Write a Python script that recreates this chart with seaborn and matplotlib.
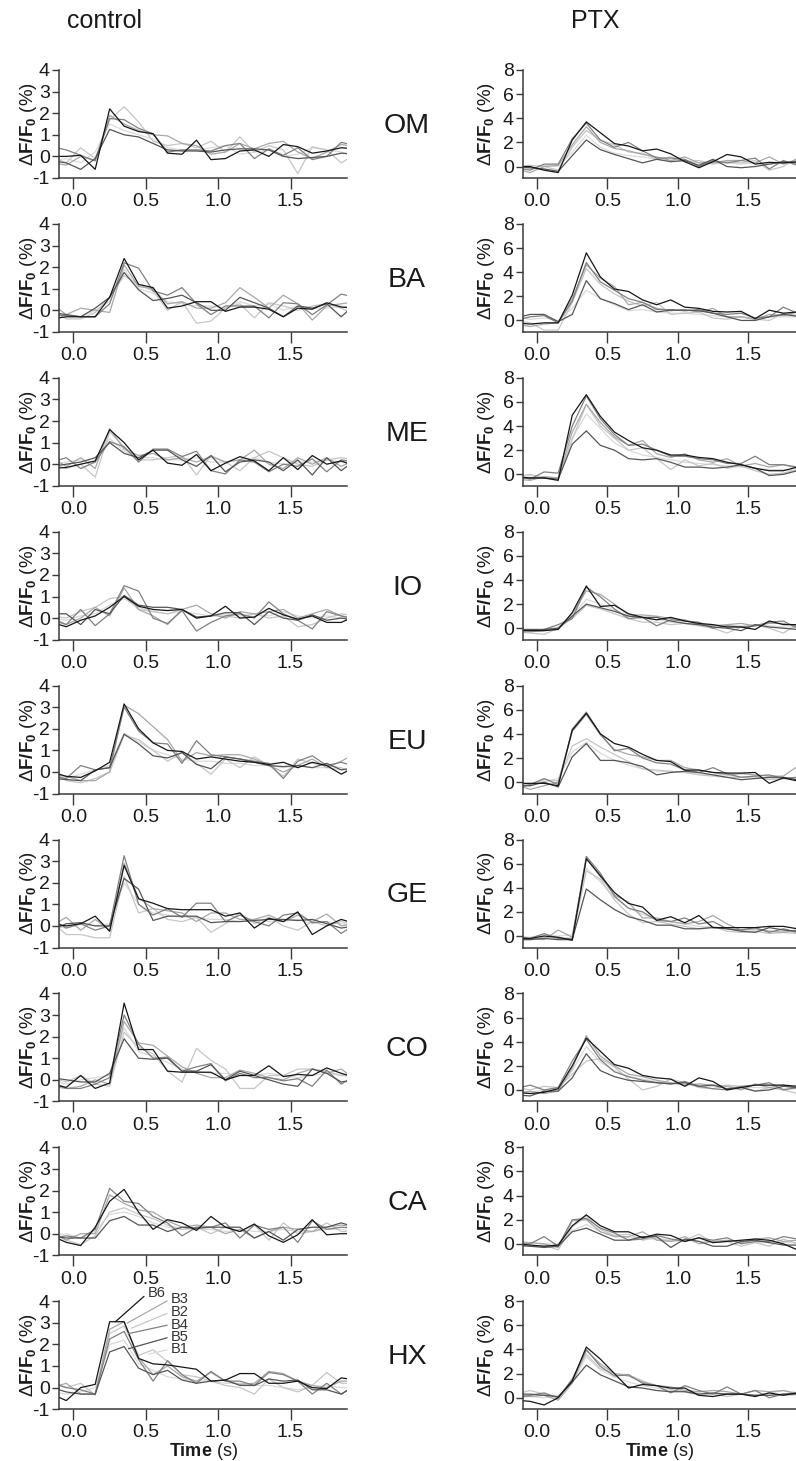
import numpy as np
import pandas as pd
import matplotlib
matplotlib.use("Agg")
import matplotlib.pyplot as plt
from matplotlib.ticker import FormatStrFormatter
import seaborn as sns

# ---------------- data ----------------
TIME = [-0.15, -0.05, 0.05, 0.15, 0.25, 0.35, 0.45, 0.55, 0.65, 0.75, 0.85,
        0.95, 1.05, 1.15, 1.25, 1.35, 1.45, 1.55, 1.65, 1.75, 1.85, 1.95]
TRACES = ["B1", "B2", "B3", "B4", "B5", "B6"]
ODORS = ["OM", "BA", "ME", "IO", "EU", "GE", "CO", "CA", "HX"]
X_TICKS = [0.0, 0.5, 1.0, 1.5]
Y_TICKS_CONTROL = [-1, 0, 1, 2, 3, 4]
Y_TICKS_PTX = [0, 2, 4, 6, 8]

OM_CONTROL = {
    "B6": [0.0, 0.0, 0.05, -0.6, 2.2, 1.4, 1.15, 1.05, 0.15, 0.1, 0.75, -0.15, -0.1, 0.25, 0.3, 0.0, 0.55, 0.45, 0.15, 0.25, 0.4, 0.35],
    "B5": [-0.2, -0.3, -0.6, -0.1, 1.25, 1.0, 0.9, 0.6, 0.3, 0.25, 0.25, 0.2, 0.3, 0.35, 0.35, 0.3, 0.0, -0.1, -0.05, 0.0, 0.15, 0.1],
    "B4": [0.45, 0.3, 0.05, -0.2, 1.75, 1.7, 1.3, 1.05, 0.2, 0.3, 0.3, 0.25, 0.5, 0.6, -0.1, 0.35, 0.05, 0.4, -0.15, 0.0, 0.65, 0.5],
    "B3": [-0.3, -0.4, 0.0, -0.2, 1.9, 1.5, 1.2, 1.0, 0.95, 0.6, 0.5, 0.1, 0.2, 0.6, 0.35, 0.6, 0.7, 0.2, -0.1, 0.2, 0.55, 0.45],
    "B2": [0.0, -0.3, 0.4, -0.1, 1.7, 2.3, 1.6, 0.7, 0.5, 0.6, 0.4, 0.7, 0.2, 0.9, 0.2, 0.5, 0.3, -0.8, 0.45, 0.3, -0.3, 0.1],
    "B1": [-0.2, -0.1, -0.3, 0.2, 1.5, 1.2, 1.0, 0.8, 0.4, 0.3, 0.3, 0.4, 0.5, 0.1, 0.2, 0.3, 0.0, 0.1, 0.4, 0.3, 0.2, 0.0],
}
BA_CONTROL = {
    "B6": [-0.4, -0.3, -0.3, -0.3, 0.6, 2.4, 1.2, 1.05, 0.1, 0.2, 0.4, 0.4, -0.05, 0.15, 0.15, 0.05, -0.3, 0.1, 0.05, 0.35, 0.15, 0.1],
    "B5": [-0.1, -0.2, -0.3, 0.1, 0.6, 1.75, 0.95, 0.45, 0.55, 0.7, 0.35, 0.0, 0.0, 0.6, 0.35, 0.1, -0.3, 0.2, 0.1, 0.3, -0.3, 0.3],
    "B4": [-0.2, -0.25, -0.3, -0.3, 0.3, 2.2, 1.95, 0.9, 0.7, 1.05, 0.3, -0.2, 0.2, 0.2, 0.2, -0.35, 0.35, 0.3, -0.2, 0.25, 0.75, 0.6],
    "B3": [0.3, -0.2, 0.1, 0.0, -0.1, 2.1, 1.1, 1.0, 0.3, 0.4, 0.1, 0.1, 0.35, 1.05, 0.6, 0.1, 0.7, 0.3, -0.45, 0.2, 0.3, 0.4],
    "B2": [0.0, -0.4, -0.4, -0.1, 0.6, 1.6, 1.2, 0.9, 0.0, 0.4, -0.6, -0.5, 0.1, 0.3, -0.35, 0.35, 0.2, 0.0, 0.2, 0.3, 0.1, -0.2],
    "B1": [-0.3, -0.2, -0.3, 0.0, 0.4, 1.9, 1.0, 0.8, 0.4, 0.3, 0.2, 0.2, 0.1, 0.4, 0.2, 0.3, 0.0, 0.2, 0.1, 0.1, 0.2, 0.1],
}
ME_CONTROL = {
    "B6": [-0.2, -0.15, 0.0, 0.15, 1.6, 1.0, 0.2, 0.65, 0.05, -0.05, 0.45, -0.3, 0.05, 0.35, 0.15, -0.3, 0.3, -0.25, 0.4, 0.0, 0.15, -0.1],
    "B5": [-0.1, 0.0, 0.1, 0.3, 1.0, 0.5, 0.3, 0.65, 0.65, 0.2, -0.1, 0.4, -0.35, 0.1, 0.2, 0.1, -0.3, 0.2, -0.5, 0.3, -0.3, 0.2],
    "B4": [0.1, 0.3, -0.2, 0.1, 1.05, 0.8, 0.1, 0.7, 0.7, 0.35, 0.6, -0.3, -0.45, 0.2, 0.1, -0.35, 0.0, -0.1, 0.25, -0.35, 0.2, 0.1],
    "B3": [0.3, -0.1, 0.3, -0.2, 1.65, 0.7, 0.4, 0.5, 0.2, 0.3, 0.1, 0.35, 0.1, 0.2, 0.65, 0.0, -0.2, 0.3, 0.0, 0.3, -0.1, 0.2],
    "B2": [0.0, -0.2, 0.0, -0.6, 1.5, 0.8, 0.2, 0.2, 0.3, 0.4, -0.5, 0.4, 0.1, -0.3, 0.3, 0.6, 0.3, 0.0, -0.1, 0.2, 0.3, 0.2],
    "B1": [0.0, 0.1, 0.2, 0.1, 1.2, 0.6, 0.3, 0.3, 0.2, 0.2, 0.3, 0.1, 0.1, 0.2, 0.3, 0.1, 0.0, 0.1, 0.1, 0.2, 0.1, 0.2],
}
IO_CONTROL = {
    "B6": [-0.2, -0.4, -0.1, 0.1, 0.5, 1.0, 0.55, 0.4, 0.35, 0.4, 0.0, 0.1, 0.55, 0.0, 0.05, 0.45, 0.15, -0.05, 0.1, -0.2, -0.2, 0.1],
    "B5": [0.2, 0.2, -0.3, 0.4, 0.2, 1.05, 0.6, 0.5, 0.5, 0.4, 0.05, 0.1, 0.25, 0.25, -0.3, 0.3, 0.0, -0.1, 0.15, -0.1, 0.0, -0.1],
    "B4": [0.0, -0.3, 0.4, -0.35, 0.2, 1.5, 1.25, 0.0, -0.25, 0.35, -0.6, -0.2, 0.1, 0.2, 0.0, 0.75, 0.2, -0.1, -0.5, 0.3, 0.1, -0.05],
    "B3": [-0.1, -0.3, 0.0, 0.5, 0.1, 1.4, 0.4, 0.1, -0.3, 0.4, 0.6, 0.2, 0.0, 0.3, 0.2, 0.3, 0.4, 0.0, 0.2, 0.4, 0.1, 0.0],
    "B2": [0.1, 0.0, 0.3, 0.5, 0.9, 1.0, 0.4, 0.3, 0.2, 0.4, 0.0, 0.1, 0.1, 0.0, 0.2, 0.0, 0.1, -0.4, -0.3, 0.0, 0.2, 0.1],
    "B1": [0.0, -0.1, 0.1, 0.2, 0.6, 0.9, 0.5, 0.3, 0.2, 0.3, 0.2, 0.1, 0.2, 0.1, 0.2, 0.1, 0.3, 0.1, 0.0, 0.1, 0.0, 0.1],
}
EU_CONTROL = {
    "B6": [0.0, -0.2, -0.25, 0.05, 0.45, 3.15, 2.0, 1.35, 1.0, 0.95, 0.6, 0.7, 0.6, 0.5, 0.45, 0.35, 0.45, 0.2, 0.45, 0.3, -0.1, 0.25],
    "B5": [-0.3, -0.35, -0.4, 0.1, 0.2, 1.75, 1.3, 0.75, 0.65, 0.9, 0.35, 0.15, 0.7, 0.6, 0.45, 0.3, 0.25, 0.3, 0.2, 0.4, 0.1, 0.2],
    "B4": [-0.2, -0.3, 0.3, 0.1, 0.2, 3.0, 1.9, 1.35, 1.3, 0.4, 1.45, 0.8, 0.7, 0.6, 0.5, 0.4, -0.3, 0.5, 0.75, 0.3, 0.45, 0.25],
    "B3": [-0.1, -0.2, -0.4, -0.4, 0.0, 3.1, 2.7, 2.1, 1.5, 0.5, 0.9, 0.75, 0.8, 0.8, 0.6, 0.3, 0.0, 0.3, 0.6, 0.2, 0.5, 0.85],
    "B2": [0.1, -0.4, -0.5, -0.3, 0.0, 1.7, 1.5, 1.0, 0.5, 0.9, 0.4, -0.1, 0.6, 0.2, 0.7, 0.3, -0.2, 0.6, 0.4, 0.3, 0.2, -0.1],
    "B1": [-0.2, -0.3, -0.1, 0.1, 0.3, 1.8, 1.4, 1.0, 0.8, 0.6, 0.5, 0.5, 0.4, 0.4, 0.3, 0.3, 0.2, 0.3, 0.2, 0.2, 0.1, 0.1],
}
GE_CONTROL = {
    "B6": [0.1, 0.0, 0.1, 0.45, -0.25, 2.8, 1.25, 1.05, 0.8, 0.75, 0.75, 0.75, 0.45, 0.6, -0.1, 0.35, 0.2, 0.65, -0.4, 0.0, 0.3, 0.1],
    "B5": [-0.2, 0.1, 0.15, 0.0, 0.0, 2.2, 1.7, 0.25, 0.45, 0.45, 0.45, 0.15, 0.2, 0.2, 0.25, 0.3, 0.3, 0.25, 0.3, 0.1, -0.1, 0.0],
    "B4": [0.3, -0.1, 0.1, -0.2, 0.0, 3.25, 1.0, 0.5, 0.8, 0.4, 1.05, 1.05, 0.2, 0.5, 0.2, 0.0, 0.5, 0.6, 0.15, 0.2, -0.35, 0.1],
    "B3": [0.0, 0.4, -0.2, 0.3, -0.2, 2.9, 1.3, 0.8, 0.7, 0.6, 0.2, 0.6, 0.6, 0.3, 0.3, 0.5, 0.2, 0.5, 0.2, 0.55, 0.0, 0.1],
    "B2": [0.2, -0.4, -0.4, -0.55, -0.55, 2.3, 0.6, 0.8, 0.3, 0.2, 0.4, -0.3, 0.1, 0.6, 0.1, 0.4, 0.0, -0.2, 0.2, 0.0, 0.2, 0.0],
    "B1": [0.0, -0.1, 0.1, 0.0, 0.1, 2.0, 1.0, 0.6, 0.5, 0.4, 0.4, 0.3, 0.3, 0.2, 0.3, 0.2, 0.2, 0.3, 0.1, 0.2, 0.1, 0.0],
}
CO_CONTROL = {
    "B6": [-0.2, -0.35, 0.2, -0.4, -0.15, 3.55, 1.4, 1.4, 0.4, 0.35, 0.35, 0.35, 0.0, 0.2, 0.2, 0.65, 0.15, 0.25, 0.2, 0.55, 0.3, 0.1],
    "B5": [0.1, 0.0, -0.1, -0.1, 0.3, 1.9, 1.0, 0.95, 1.0, 0.4, 0.4, 0.7, 0.0, 0.4, 0.2, 0.0, -0.2, -0.3, 0.5, 0.3, -0.1, 0.0],
    "B4": [-0.1, -0.4, -0.4, -0.2, 0.1, 3.0, 1.65, 1.0, 1.05, 0.4, 0.6, 0.75, -0.05, 0.3, 0.1, 0.1, -0.05, 0.05, -0.3, 0.45, -0.2, 0.2],
    "B3": [-0.3, -0.4, -0.3, 0.0, -0.2, 2.7, 1.7, 1.6, 1.1, 0.6, 0.3, 0.1, 0.1, 0.45, 0.3, 0.1, 0.0, 0.3, 0.5, 0.3, 0.5, 0.0],
    "B2": [0.1, -0.1, 0.2, -0.2, -0.3, 2.2, 1.5, 1.2, 0.4, -0.1, 1.45, 0.9, 0.5, -0.4, -0.4, 0.2, 0.2, 0.5, 0.5, 0.4, 0.2, 0.3],
    "B1": [0.0, -0.2, 0.0, 0.1, 0.2, 2.4, 1.3, 1.1, 0.8, 0.5, 0.4, 0.3, 0.3, 0.2, 0.2, 0.3, 0.2, 0.1, 0.2, 0.3, 0.2, 0.1],
}
CA_CONTROL = {
    "B6": [-0.1, -0.4, -0.55, 0.3, 1.5, 2.05, 1.0, 0.2, 0.65, 0.5, 0.15, 0.8, 0.3, 0.1, 0.45, -0.1, -0.4, -0.05, 0.65, -0.05, 0.0, 0.0],
    "B5": [-0.1, -0.2, -0.2, -0.2, 0.6, 0.8, 0.4, 0.4, 0.1, 0.3, 0.25, 0.3, 0.3, 0.3, -0.2, 0.1, -0.3, 0.2, 0.3, 0.3, 0.5, 0.3],
    "B4": [-0.2, -0.1, -0.2, 0.2, 2.1, 1.5, 1.4, 0.8, 0.5, -0.1, 0.3, 0.3, 0.5, -0.2, 0.4, 0.2, 0.3, -0.4, 0.6, 0.2, 0.3, 0.25],
    "B3": [0.1, -0.3, 0.0, 0.0, 1.8, 1.4, 1.1, 1.0, 0.6, 0.3, 0.4, 0.3, 0.0, 0.2, -0.2, 0.1, 0.3, 0.2, 0.1, 0.3, 0.4, 0.3],
    "B2": [0.0, -0.3, -0.5, -0.1, 1.0, 1.2, 0.9, 0.7, 0.4, 0.2, 0.3, 0.0, 0.3, 0.1, 0.4, -0.3, 0.5, 0.0, 0.1, 0.5, 0.1, 0.1],
    "B1": [-0.1, 0.0, -0.2, 0.1, 0.9, 1.0, 0.8, 0.5, 0.3, 0.2, 0.2, 0.2, 0.1, 0.2, 0.1, 0.1, 0.2, 0.1, 0.1, 0.2, 0.2, 0.1],
}
HX_CONTROL = {
    "B6": [-0.3, -0.6, 0.0, 0.15, 3.05, 3.05, 1.35, 1.1, 1.05, 0.95, 0.85, 0.3, 0.35, 0.65, 0.65, 0.2, 0.2, 0.3, 0.0, -0.05, 0.45, 0.35],
    "B5": [0.0, -0.2, -0.3, -0.3, 1.65, 1.9, 0.9, 0.6, 0.8, 0.35, 0.2, 0.3, 0.35, 0.1, 0.1, 0.4, 0.3, 0.35, -0.1, -0.1, -0.3, 0.1],
    "B4": [0.2, 0.0, -0.1, -0.3, 2.25, 2.6, 1.3, 0.3, 1.25, 0.6, 0.2, 0.75, 0.3, 0.3, 0.1, 0.7, 0.6, 0.3, -0.3, 0.2, -0.3, 0.1],
    "B3": [0.0, 0.2, -0.3, -0.3, 2.7, 3.05, 1.4, 0.6, 1.0, 0.5, 0.3, 0.7, 0.3, 0.15, 0.2, 0.75, 0.65, 0.3, 0.1, 0.0, 0.3, 0.3],
    "B2": [0.3, 0.0, 0.2, -0.35, 2.5, 2.85, 1.5, 1.75, 1.2, 0.6, 0.5, 0.3, 0.1, 0.0, -0.3, 0.4, 0.0, -0.2, 0.1, 0.7, 0.2, 0.2],
    "B1": [-0.2, -0.3, -0.2, 0.0, 2.0, 2.2, 1.1, 0.8, 0.5, 0.4, 0.3, 0.3, 0.2, 0.2, 0.1, 0.1, 0.0, -0.1, 0.0, 0.1, 0.0, 0.0],
}

OM_PTX = {
    "B6": [0.0, 0.0, -0.3, -0.5, 2.2, 3.7, 2.8, 1.9, 1.7, 1.3, 1.45, 1.05, 0.4, -0.1, 0.4, 1.0, 0.8, 0.2, 0.35, 0.3, 0.4, 0.4],
    "B5": [0.0, -0.1, -0.2, -0.4, 0.9, 2.2, 1.4, 1.0, 0.65, 0.3, 0.6, 0.4, 0.5, 0.1, 0.6, 0.0, -0.1, 0.0, 0.2, 0.4, 0.3, 0.5],
    "B4": [-0.1, -0.3, 0.2, 0.2, 2.3, 3.6, 2.2, 1.6, 2.0, 1.3, 0.7, 0.7, 0.6, 0.0, 0.5, 0.3, 0.5, 0.7, -0.2, 0.5, 0.1, 0.3],
    "B3": [-0.2, -0.5, 0.0, 0.1, 1.8, 3.3, 2.0, 1.5, 1.3, 1.0, 0.8, 0.5, 0.8, 0.3, 0.3, 0.5, 0.5, 0.3, 0.8, 0.2, 0.6, 0.3],
    "B2": [0.0, 0.1, 0.0, -0.3, 1.6, 3.0, 2.2, 1.8, 1.2, 1.1, 0.6, 0.8, 0.4, 0.5, 0.2, 0.4, 0.3, 0.5, -0.3, 0.0, 0.7, 0.2],
    "B1": [0.0, -0.2, 0.1, 0.0, 1.2, 2.6, 1.6, 1.1, 0.9, 0.8, 0.6, 0.5, 0.4, 0.3, 0.4, 0.3, 0.2, 0.3, 0.2, 0.3, 0.2, 0.2],
}
BA_PTX = {
    "B6": [-0.2, -0.3, -0.2, -0.2, 2.1, 5.6, 3.6, 2.6, 2.4, 1.7, 1.3, 1.7, 1.1, 1.0, 0.75, 0.7, 0.75, 0.15, 0.85, 0.6, 0.7, 0.7],
    "B5": [0.2, 0.5, 0.5, -0.1, 0.5, 3.3, 1.8, 1.4, 0.9, 1.3, 0.7, 0.85, 0.85, 0.8, 0.6, 0.3, 0.0, 0.0, 0.3, 0.5, 0.35, 0.3],
    "B4": [0.0, 0.3, 0.4, -0.2, 1.6, 4.8, 3.2, 2.5, 1.8, 1.5, 0.9, 0.9, 0.8, 0.9, 0.6, 0.5, 0.6, 0.2, 0.3, 1.1, 0.6, 0.4],
    "B3": [-0.3, -0.5, -0.3, -0.2, 1.8, 4.6, 3.5, 2.8, 1.3, 1.5, 1.0, 0.8, 0.9, 0.7, 1.0, 0.3, 0.3, 0.1, 0.5, 0.4, 0.7, 0.5],
    "B2": [0.0, -0.2, -0.8, -0.8, 1.5, 4.3, 3.0, 2.2, 1.6, 1.2, 1.5, 0.5, 0.6, 0.7, 0.2, 0.1, 0.3, 0.1, 0.0, 0.6, 0.4, 0.3],
    "B1": [0.3, 0.1, 0.2, 0.0, 1.0, 2.5, 1.8, 1.3, 0.8, 0.9, 0.7, 0.6, 0.6, 0.5, 0.4, 0.3, 0.3, 0.2, 0.3, 0.3, 0.3, 0.2],
}
ME_PTX = {
    "B6": [-0.2, -0.3, -0.3, -0.5, 4.9, 6.6, 4.8, 3.5, 2.8, 2.2, 2.0, 1.6, 1.6, 1.4, 1.3, 1.0, 0.8, 0.5, 0.3, 0.3, 0.6, 0.3],
    "B5": [-0.3, -0.3, -0.3, -0.4, 2.5, 3.6, 2.4, 2.0, 1.3, 1.2, 1.3, 1.0, 0.6, 0.6, 0.5, 0.6, 0.8, 0.5, -0.1, 0.0, 0.3, 0.2],
    "B4": [-0.1, -0.4, 0.2, 0.1, 4.0, 6.5, 4.6, 3.3, 2.4, 2.5, 2.0, 1.5, 1.5, 1.3, 1.2, 0.9, 0.9, 1.5, 0.8, 0.8, 0.6, 0.5],
    "B3": [-0.4, -0.5, -0.2, -0.3, 3.5, 5.8, 4.3, 3.1, 2.4, 2.8, 1.7, 1.4, 1.7, 1.2, 1.0, 1.3, 0.7, 0.9, 0.6, 0.8, 0.5, 0.6],
    "B2": [-0.2, 0.0, -0.3, -0.3, 2.9, 5.8, 4.0, 3.0, 2.0, 2.2, 1.3, 0.4, 1.2, 0.7, 0.9, 0.5, 0.7, 0.3, 0.0, 0.1, 0.4, 0.3],
    "B1": [-0.2, -0.1, -0.2, -0.3, 3.0, 5.0, 3.8, 2.6, 2.0, 1.6, 1.4, 1.2, 1.0, 0.9, 0.8, 0.7, 0.6, 0.5, 0.4, 0.4, 0.3, 0.3],
}
IO_PTX = {
    "B6": [-0.2, -0.2, -0.2, -0.1, 1.3, 3.5, 1.8, 1.9, 1.2, 0.9, 0.7, 0.9, 0.6, 0.4, 0.3, 0.1, 0.1, -0.1, 0.6, 0.3, 0.3, 0.3],
    "B5": [-0.1, -0.1, -0.1, 0.0, 1.0, 2.0, 1.7, 1.4, 1.0, 0.9, 0.9, 0.6, 0.4, 0.3, 0.1, 0.0, -0.2, 0.3, 0.1, 0.0, -0.1, 0.0],
    "B4": [0.0, -0.2, -0.1, 0.3, 0.8, 3.4, 2.6, 1.6, 0.8, 0.9, 0.2, 0.7, 0.6, 0.5, 0.0, 0.2, 0.1, 0.2, 0.5, 0.6, 0.0, 0.0],
    "B3": [-0.3, -0.3, -0.2, 0.0, 1.2, 3.1, 2.8, 2.0, 1.1, 1.1, 1.0, 0.8, 0.7, 0.3, 0.2, 0.3, 0.4, 0.2, 0.4, 0.4, 0.2, 0.2],
    "B2": [-0.3, -0.4, -0.5, 0.0, 0.8, 1.9, 1.6, 1.2, 0.8, 0.5, 0.5, 0.3, 0.4, 0.2, 0.0, -0.4, 0.1, 0.3, 0.0, -0.4, 0.3, 0.1],
    "B1": [-0.1, -0.2, -0.1, 0.1, 1.0, 2.4, 2.0, 1.5, 1.0, 0.8, 0.7, 0.5, 0.4, 0.3, 0.2, 0.2, 0.2, 0.2, 0.2, 0.1, 0.1, 0.1],
}
EU_PTX = {
    "B6": [-0.1, -0.1, -0.1, -0.3, 4.3, 5.7, 4.0, 3.2, 2.9, 2.3, 1.8, 1.7, 1.0, 1.0, 0.8, 0.75, 0.75, 0.8, -0.1, 0.35, 0.1, 0.2],
    "B5": [-0.3, -0.3, 0.0, -0.4, 2.1, 3.2, 1.8, 1.8, 1.6, 1.3, 0.6, 0.8, 0.9, 0.8, 0.6, 0.4, 0.2, 0.3, 0.4, 0.4, 0.2, 0.2],
    "B4": [-0.5, -0.2, 0.3, -0.2, 4.4, 5.8, 4.0, 2.6, 2.8, 2.0, 1.6, 1.5, 1.0, 0.8, 1.2, 0.7, 0.4, 0.5, 0.6, 0.3, 0.4, 0.5],
    "B3": [-0.2, -0.6, -0.3, 0.0, 4.2, 5.6, 3.9, 2.7, 2.3, 2.1, 1.8, 1.8, 1.2, 1.0, 0.8, 0.6, 0.7, 0.6, 0.5, 0.5, 1.3, 0.6],
    "B2": [-0.1, -0.3, 0.2, 0.1, 3.0, 3.6, 2.9, 2.3, 1.7, 1.1, 1.0, 0.9, 0.8, 0.6, 0.5, 0.4, 0.4, 0.5, 0.2, 0.3, 0.4, 0.3],
    "B1": [-0.2, -0.2, 0.0, 0.3, 2.5, 3.3, 2.4, 1.8, 1.4, 1.1, 0.9, 0.9, 0.8, 0.7, 0.6, 0.6, 0.4, 0.4, 0.3, 0.3, 0.2, 0.2],
}
GE_PTX = {
    "B6": [-0.2, -0.2, 0.0, -0.1, -0.35, 6.4, 5.0, 3.6, 2.7, 2.4, 1.3, 1.6, 1.1, 1.7, 0.7, 0.7, 0.7, 0.7, 0.8, 0.8, 0.6, 0.3],
    "B5": [-0.3, -0.3, -0.2, -0.3, -0.3, 3.9, 3.0, 2.2, 1.6, 1.3, 0.9, 0.9, 0.6, 0.6, 0.7, 0.6, 0.4, 0.3, 0.7, 0.5, 0.4, 0.3],
    "B4": [0.0, -0.2, 0.2, -0.2, -0.2, 6.6, 5.2, 3.3, 2.3, 2.0, 1.3, 1.2, 1.5, 1.0, 1.2, 0.6, 0.5, 0.7, 0.3, 0.6, 0.3, 0.4],
    "B3": [-0.4, -0.2, -0.3, 0.5, -0.1, 6.5, 4.9, 3.4, 2.8, 1.5, 1.5, 1.2, 1.0, 1.2, 1.7, 1.0, 0.5, 0.6, 0.4, 0.3, 0.5, 0.2],
    "B2": [-0.2, -0.3, -0.1, -0.2, -0.2, 5.4, 4.7, 3.0, 1.8, 1.1, 1.2, 1.0, 0.8, 0.6, 0.8, 0.4, 0.3, 0.4, 0.2, 0.3, 0.2, 0.1],
    "B1": [0.0, -0.1, 0.1, 0.0, 0.1, 5.6, 4.5, 3.2, 2.3, 1.8, 1.4, 1.2, 1.0, 0.8, 0.7, 0.6, 0.5, 0.5, 0.4, 0.4, 0.3, 0.3],
}
CO_PTX = {
    "B6": [-0.2, -0.3, -0.2, 0.1, 2.0, 4.3, 3.2, 2.1, 1.8, 1.2, 1.0, 0.9, 0.3, 1.0, 0.7, 0.0, 0.2, 0.4, 0.4, 0.4, 0.3, 0.3],
    "B5": [-0.4, -0.5, -0.1, -0.1, 1.0, 3.0, 1.6, 1.1, 0.8, 0.7, 0.6, 0.5, 0.6, 0.3, 0.4, 0.1, 0.2, -0.1, 0.0, 0.3, 0.2, 0.3],
    "B4": [0.1, 0.4, 0.0, 0.2, 2.4, 4.2, 2.5, 1.5, 1.1, 0.8, 0.6, 0.5, 0.7, 0.3, 0.1, 0.0, 0.3, 0.4, 0.6, 0.0, 0.2, 0.3],
    "B3": [-0.3, -0.1, -0.3, -0.1, 1.8, 4.5, 2.8, 2.0, 1.3, 1.1, 0.8, 0.6, 0.4, 0.5, 0.4, 0.3, 0.0, 0.5, 0.2, 0.4, 0.1, -0.2],
    "B2": [0.2, 0.0, 0.3, 0.2, 1.3, 2.4, 2.6, 1.9, 0.9, 0.0, 0.3, 0.9, 0.6, 0.2, 0.1, 0.4, 0.3, -0.1, 0.2, 0.0, -0.3, 0.1],
    "B1": [-0.1, -0.2, 0.0, 0.1, 1.6, 3.6, 2.3, 1.6, 1.1, 0.9, 0.7, 0.6, 0.5, 0.4, 0.3, 0.3, 0.2, 0.2, 0.2, 0.1, 0.1, 0.1],
}
CA_PTX = {
    "B6": [0.0, -0.1, -0.2, -0.1, 1.5, 2.4, 1.5, 1.0, 1.0, 0.5, 0.8, 0.7, 0.2, 0.5, 0.1, 0.2, 0.3, 0.4, 0.3, 0.0, -0.5, -0.3],
    "B5": [-0.1, -0.2, -0.3, -0.2, 1.0, 1.3, 0.8, 0.3, 0.3, 0.6, 0.6, -0.3, 0.4, 0.2, -0.2, -0.2, 0.2, 0.3, 0.1, -0.1, -0.1, 0.0],
    "B4": [0.0, 0.0, 0.6, -0.2, 2.0, 2.1, 1.3, 0.9, 0.3, 0.4, 0.7, 0.4, 0.2, 0.5, 0.3, 0.5, 0.0, 0.2, 0.2, 0.6, 0.4, 0.3],
    "B3": [0.2, 0.1, 0.0, -0.3, 1.9, 2.0, 1.0, 0.6, 0.6, 1.0, 0.3, 0.2, 0.6, 0.0, 0.2, 0.3, 0.1, 0.4, 0.5, 0.2, 0.3, 0.2],
    "B2": [-0.2, -0.2, -0.1, -0.5, 1.4, 2.3, 1.2, 0.7, 0.8, 0.3, 0.5, 0.2, 0.3, 0.8, 0.1, 0.2, -0.2, 0.1, -0.2, 0.4, 0.0, 0.1],
    "B1": [0.0, 0.1, 0.0, 0.0, 1.1, 1.6, 1.0, 0.7, 0.5, 0.5, 0.4, 0.3, 0.3, 0.2, 0.2, 0.2, 0.2, 0.1, 0.1, 0.1, 0.1, 0.1],
}
HX_PTX = {
    "B6": [-0.2, -0.3, -0.6, 0.0, 1.4, 4.2, 3.2, 2.0, 0.8, 1.1, 1.0, 0.8, 0.8, 0.2, 0.1, 0.3, 0.3, 0.1, 0.4, 0.2, 0.4, 0.4],
    "B5": [0.3, 0.3, 0.2, 0.1, 1.3, 2.7, 1.9, 1.4, 0.9, 0.8, 0.6, 0.5, 0.5, 0.3, 0.4, 0.3, 0.3, 0.2, 0.2, 0.3, 0.3, 0.2],
    "B4": [0.0, 0.2, 0.4, 0.0, 1.5, 4.0, 2.6, 1.8, 1.9, 1.2, 1.0, 0.4, 1.0, 0.6, 0.3, 0.9, 0.3, 0.6, 0.0, 0.3, 0.4, 0.4],
    "B3": [0.3, 0.1, 0.2, -0.2, 1.2, 3.9, 2.8, 2.0, 1.8, 1.3, 1.0, 0.9, 0.6, 0.5, 0.6, 0.5, 0.3, 0.6, 0.5, 0.6, 0.3, 0.5],
    "B2": [0.3, 0.6, 0.3, 0.0, 1.6, 3.6, 2.4, 2.0, 1.9, 1.4, 1.0, 0.7, 0.5, 0.2, 0.3, 0.1, 0.3, 0.2, 0.4, 0.6, 0.4, 0.4],
    "B1": [0.0, 0.1, 0.0, 0.1, 1.3, 3.4, 2.3, 1.7, 1.3, 1.0, 0.8, 0.6, 0.5, 0.4, 0.3, 0.3, 0.3, 0.2, 0.2, 0.2, 0.2, 0.2],
}

CONTROL = [OM_CONTROL, BA_CONTROL, ME_CONTROL, IO_CONTROL, EU_CONTROL,
           GE_CONTROL, CO_CONTROL, CA_CONTROL, HX_CONTROL]
PTX = [OM_PTX, BA_PTX, ME_PTX, IO_PTX, EU_PTX, GE_PTX, CO_PTX, CA_PTX, HX_PTX]

# label annotation in the bottom-left panel: (trace, point x, point y, text x, text y)
ANNOT = [("B6", 0.29, 3.05, 0.51, 4.36),
         ("B3", 0.37, 2.98, 0.67, 4.10),
         ("B2", 0.40, 2.75, 0.67, 3.50),
         ("B4", 0.38, 2.50, 0.67, 2.92),
         ("B5", 0.38, 1.80, 0.67, 2.35),
         ("B1", 0.52, 1.55, 0.67, 1.78)]

PALETTE = {"B1": "#dadada", "B2": "#c6c6c6", "B3": "#a8a8a8",
           "B4": "#808080", "B5": "#555555", "B6": "#161616"}

# ---------------- style ----------------
sns.set_theme(style="ticks")
plt.rcParams["font.family"] = ["Liberation Sans", "DejaVu Sans"]
plt.rcParams["mathtext.fontset"] = "custom"
plt.rcParams["mathtext.rm"] = "Liberation Sans"
plt.rcParams["mathtext.it"] = "Liberation Sans:italic"
plt.rcParams["mathtext.bf"] = "Liberation Sans:bold"
plt.rcParams["axes.unicode_minus"] = False

AXC = "#3a3a3a"
W, H = 796.0, 1461.0
fig = plt.figure(figsize=(7.96, 14.61), dpi=100)

ROW_TOP0, ROW_PITCH, AX_H = 70.0, 153.9, 108.0


def add_ax(left, top, width, height):
    return fig.add_axes([left / W, 1 - (top + height) / H, width / W, height / H])


def long_df(panel):
    rows = []
    for tr in TRACES:
        for t, v in zip(TIME, panel[tr]):
            rows.append((tr, t, v))
    return pd.DataFrame(rows, columns=["trace", "t", "v"])


def style_ax(ax, yticks, ylim, xlim, lab_x):
    ax.set_xlim(*xlim)
    ax.set_ylim(*ylim)
    ax.set_xticks(X_TICKS)
    ax.xaxis.set_major_formatter(FormatStrFormatter("%.1f"))
    ax.set_yticks(yticks)
    ax.tick_params(axis="x", direction="out", length=8, width=1.0, color=AXC,
                   labelsize=14, pad=3, labelcolor="#1a1a1a")
    ax.tick_params(axis="y", direction="out", length=5, width=1.0, color=AXC,
                   labelsize=14, pad=1.5, labelcolor="#1a1a1a")
    for s in ["top", "right"]:
        ax.spines[s].set_visible(False)
    for s in ["left", "bottom"]:
        ax.spines[s].set_color(AXC)
        ax.spines[s].set_linewidth(1.1)
    ax.set_xlabel("")
    ax.set_ylabel(r"$\Delta\mathbf{F/F_0}$ (%)", fontsize=13.5, color="#1a1a1a")
    ax.yaxis.set_label_coords(lab_x, 0.5)


for i, odor in enumerate(ODORS):
    top = ROW_TOP0 + i * ROW_PITCH
    # control column
    axl = add_ax(59, top, 288, AX_H)
    sns.lineplot(data=long_df(CONTROL[i]), x="t", y="v", hue="trace",
                 hue_order=TRACES, palette=PALETTE, estimator=None,
                 legend=False, linewidth=0.9, ax=axl)
    style_ax(axl, Y_TICKS_CONTROL, (-1, 4), (-0.1, 1.89), -0.068)
    # PTX column
    axr = add_ax(523, top, 273, AX_H)
    sns.lineplot(data=long_df(PTX[i]), x="t", y="v", hue="trace",
                 hue_order=TRACES, palette=PALETTE, estimator=None,
                 legend=False, linewidth=0.9, ax=axr)
    style_ax(axr, Y_TICKS_PTX, (-0.95, 8), (-0.1, 1.84), -0.095)
    # row label
    fig.text(407 / W, 1 - (top + 56) / H, odor, ha="center", va="center",
             fontsize=20.5, color="#1a1a1a")

    if i == len(ODORS) - 1:
        for ax in (axl, axr):
            ax.set_xlabel(r"$\mathbf{Time}$ (s)", fontsize=13, labelpad=0,
                          color="#1a1a1a")
        for tr, px, py, tx, ty in ANNOT:
            axl.annotate(tr, xy=(px, py), xytext=(tx, ty), textcoords="data",
                         fontsize=10.5, color="#333333", ha="left", va="center",
                         annotation_clip=False,
                         arrowprops=dict(arrowstyle="-", color=PALETTE[tr],
                                         lw=0.9, shrinkA=0, shrinkB=0,
                                         relpos=(0.0, 0.5)))

fig.text(105 / W, 1 - 21 / H, "control", ha="center", va="center",
         fontsize=18, color="#1a1a1a")
fig.text(595 / W, 1 - 21 / H, "PTX", ha="center", va="center",
         fontsize=18, color="#1a1a1a")

fig.savefig("out.png", dpi=100)
